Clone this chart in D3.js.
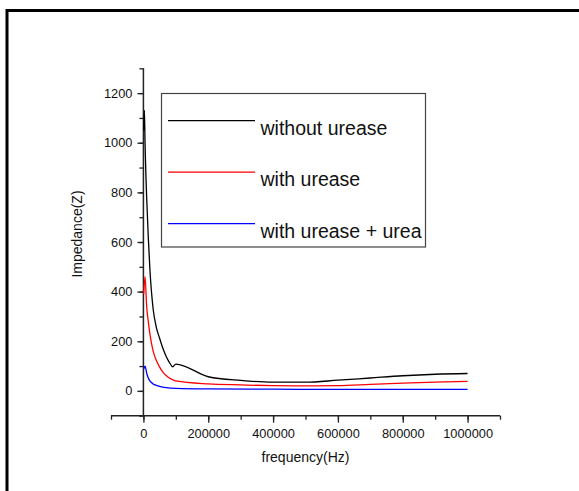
<!DOCTYPE html>
<html>
<head>
<meta charset="utf-8">
<script src="https://cdn.jsdelivr.net/npm/d3@7"></script>
<style>
  html, body { margin: 0; padding: 0; background: #fff; }
  svg { display: block; font-family: "Liberation Sans", Arial, sans-serif; }
</style>
</head>
<body>
<svg id="chart" width="579" height="491"></svg>
<script>
'use strict';

// ─── Data ────────────────────────────────────────────────────────────────────
const seriesNames = ['without urease', 'with urease', 'with urease + urea'];
const seriesColors = ['#000000', '#ff0000', '#0000ff'];

const freqBlack = [1000, 3000, 5000, 10000, 15000, 20000, 30000, 40000, 50000, 60000, 70000, 80000, 90000, 100000, 200000, 300000, 400000, 500000, 600000, 700000, 800000, 900000, 1000000];
const zBlack    = [1050, 1130, 1000, 780, 620, 490, 330, 255, 212, 172, 140, 115, 97, 108, 57, 42, 35, 35, 43, 52, 61, 67, 70];

const freqRed = [1000, 5000, 10000, 15000, 20000, 30000, 40000, 50000, 60000, 70000, 80000, 90000, 100000, 200000, 300000, 400000, 500000, 600000, 700000, 800000, 900000, 1000000];
const zRed    = [390, 460, 340, 280, 230, 160, 122, 96, 76, 62, 52, 45, 40, 28, 24, 21, 20, 21, 26, 31, 35, 38];

const freqBlue = [1000, 5000, 10000, 15000, 20000, 30000, 40000, 50000, 70000, 100000, 200000, 400000, 600000, 800000, 1000000];
const zBlue    = [88, 100, 72, 52, 40, 28, 22, 18, 13, 10, 8, 7, 6, 6, 6];

const xMajorTicks = [0, 200000, 400000, 600000, 800000, 1000000];
const yMajorTicks = [0, 200, 400, 600, 800, 1000, 1200];

// ─── Layout ──────────────────────────────────────────────────────────────────
const svg = d3.select('#chart');

// outer frame (runs past the right and bottom edges)
svg.append('rect')
  .attr('x', 7).attr('y', 10.5)
  .attr('width', 700).attr('height', 700)
  .attr('fill', 'none').attr('stroke', '#000').attr('stroke-width', 3);

const x = d3.scaleLinear().domain([-100000, 1100000]).range([111, 500]);
const y = d3.scaleLinear().domain([-100, 1300]).range([415.7, 68.3]);

const axisColor = '#222';

// ─── Axes ────────────────────────────────────────────────────────────────────
const xAxisG = svg.append('g').attr('transform', `translate(0,${y(-100)})`);
xAxisG.call(d3.axisBottom(x).tickValues(d3.range(-100000, 1100001, 100000))
  .tickSize(4).tickFormat(''));
xAxisG.call(g => g.select('.domain').remove());
const xMaj = svg.append('g').attr('transform', `translate(0,${y(-100)})`)
  .call(d3.axisBottom(x).tickValues(xMajorTicks).tickSize(7).tickPadding(6).tickFormat(d3.format('d')).tickSizeOuter(0));
xMaj.select('.domain').remove();
svg.append('line')
  .attr('x1', x(-100000)).attr('x2', x(1100000))
  .attr('y1', y(-100)).attr('y2', y(-100))
  .attr('stroke', axisColor).attr('stroke-width', 1.5);

const yAxisG = svg.append('g').attr('transform', `translate(${x(0)},0)`);
yAxisG.call(d3.axisLeft(y).tickValues(d3.range(-100, 1301, 100)).tickSize(4).tickFormat(''));
yAxisG.select('.domain').remove();
const yMaj = svg.append('g').attr('transform', `translate(${x(0)},0)`)
  .call(d3.axisLeft(y).tickValues(yMajorTicks).tickSize(6).tickPadding(5).tickFormat(d3.format('d')));
yMaj.select('.domain').remove();
svg.append('line')
  .attr('x1', x(0)).attr('x2', x(0))
  .attr('y1', y(1300)).attr('y2', y(-100))
  .attr('stroke', axisColor).attr('stroke-width', 1.5);

svg.selectAll('.tick line').attr('stroke', axisColor).attr('stroke-width', 1.3);
svg.selectAll('.tick text').attr('font-size', 12.8).attr('fill', '#111')
  .attr('font-family', '"Liberation Sans", Arial, sans-serif');

// axis titles
svg.append('text')
  .attr('x', (x(-100000) + x(1100000)) / 2).attr('y', 462)
  .attr('text-anchor', 'middle').attr('font-size', 14).attr('fill', '#111')
  .text('frequency(Hz)');
svg.append('text')
  .attr('transform', 'translate(81.5,234) rotate(-90)')
  .attr('text-anchor', 'middle').attr('font-size', 14).attr('fill', '#111')
  .text('Impedance(Z)');

// ─── Series ──────────────────────────────────────────────────────────────────
const line = d3.line().x(d => x(d[0])).y(d => y(d[1])).curve(d3.curveMonotoneX);
const series = [
  d3.zip(freqBlack, zBlack),
  d3.zip(freqRed, zRed),
  d3.zip(freqBlue, zBlue),
];
series.forEach((pts, i) => {
  svg.append('path')
    .attr('d', line(pts))
    .attr('fill', 'none')
    .attr('stroke', seriesColors[i])
    .attr('stroke-width', 1.3);
});

// ─── Legend ──────────────────────────────────────────────────────────────────
const legend = svg.append('g');
legend.append('rect')
  .attr('x', 161.5).attr('y', 93.5).attr('width', 264).attr('height', 153.5)
  .attr('fill', '#fff').attr('stroke', '#444').attr('stroke-width', 1.2);
seriesNames.forEach((name, i) => {
  const ly = 120.7 + i * 51.5;
  legend.append('line')
    .attr('x1', 168).attr('x2', 255).attr('y1', ly).attr('y2', ly)
    .attr('stroke', seriesColors[i]).attr('stroke-width', 1.3);
  legend.append('text')
    .attr('x', 260.5).attr('y', ly + 14)
    .attr('font-size', 19.5).attr('fill', '#111')
    .text(name);
});
</script>
</body>
</html>
